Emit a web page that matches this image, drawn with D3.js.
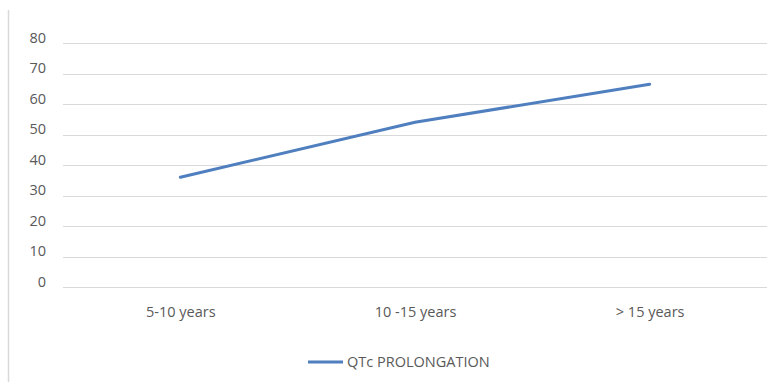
<!DOCTYPE html>
<html>
<head>
<meta charset="utf-8">
<script src="https://cdn.jsdelivr.net/npm/d3@7"></script>
<style>
  body { margin: 0; background: #fff; }
  text { font-family: "Open Sans", "Noto Sans", sans-serif; fill: #595959; }
</style>
</head>
<body>
<div id="chart"></div>
<script>
// data
const categories = ["5-10 years", "10 -15 years", "> 15 years"];
const qtcValues = [36, 54, 66.5];
const yTicks = [0, 10, 20, 30, 40, 50, 60, 70, 80];
const seriesName = "QTc PROLONGATION";

const W = 775, H = 382;
const margin = { top: 43, right: 8, bottom: 95, left: 63 };
const width = W - margin.left - margin.right;
const height = H - margin.top - margin.bottom;

const svg = d3.select("#chart").append("svg")
    .attr("width", W)
    .attr("height", H);

// left border of the chart frame
svg.append("line")
    .attr("x1", 8.5).attr("x2", 8.5)
    .attr("y1", 10).attr("y2", H)
    .attr("stroke", "#d9d9d9")
    .attr("stroke-width", 1.5);

const g = svg.append("g")
    .attr("transform", `translate(${margin.left},${margin.top})`);

const x = d3.scalePoint()
    .domain(categories)
    .range([0, width])
    .padding(0.5);

const y = d3.scaleLinear()
    .domain([0, 80])
    .range([height, 0]);

// gridlines
g.selectAll(".grid")
    .data(yTicks)
    .enter().append("line")
    .attr("x1", 0).attr("x2", width)
    .attr("y1", d => Math.round(y(d)) + 0.5)
    .attr("y2", d => Math.round(y(d)) + 0.5)
    .attr("stroke", "#d9d9d9")
    .attr("stroke-width", 1);

// y axis labels (no axis line)
const yAxis = g.append("g")
    .call(d3.axisLeft(y).tickValues(yTicks).tickSize(0).tickPadding(17));
yAxis.select(".domain").remove();
yAxis.selectAll("text")
    .attr("dy", "-0.05em")
    .style("font-size", "14.5px")
    .style("fill", "#595959");

// x axis labels
const xAxis = g.append("g")
    .attr("transform", `translate(0,${height})`)
    .call(d3.axisBottom(x).tickSize(0).tickPadding(20));
xAxis.select(".domain").remove();
xAxis.selectAll("text")
    .style("font-size", "14.5px")
    .style("fill", "#595959");

// the series line
g.append("path")
    .datum(qtcValues)
    .attr("fill", "none")
    .attr("stroke", "#4f7fbe")
    .attr("stroke-width", 3)
    .attr("stroke-linecap", "round")
    .attr("d", d3.line()
        .x((d, i) => x(categories[i]))
        .y(d => y(d)));

// legend
const legend = svg.append("g")
    .attr("transform", `translate(308,362)`);
legend.append("line")
    .attr("x1", 0).attr("x2", 35)
    .attr("y1", 0).attr("y2", 0)
    .attr("stroke", "#4f7fbe")
    .attr("stroke-width", 3);
legend.append("text")
    .attr("x", 39)
    .attr("y", 0)
    .attr("dy", "0.35em")
    .style("font-size", "14.5px")
    .text(seriesName);
</script>
</body>
</html>
